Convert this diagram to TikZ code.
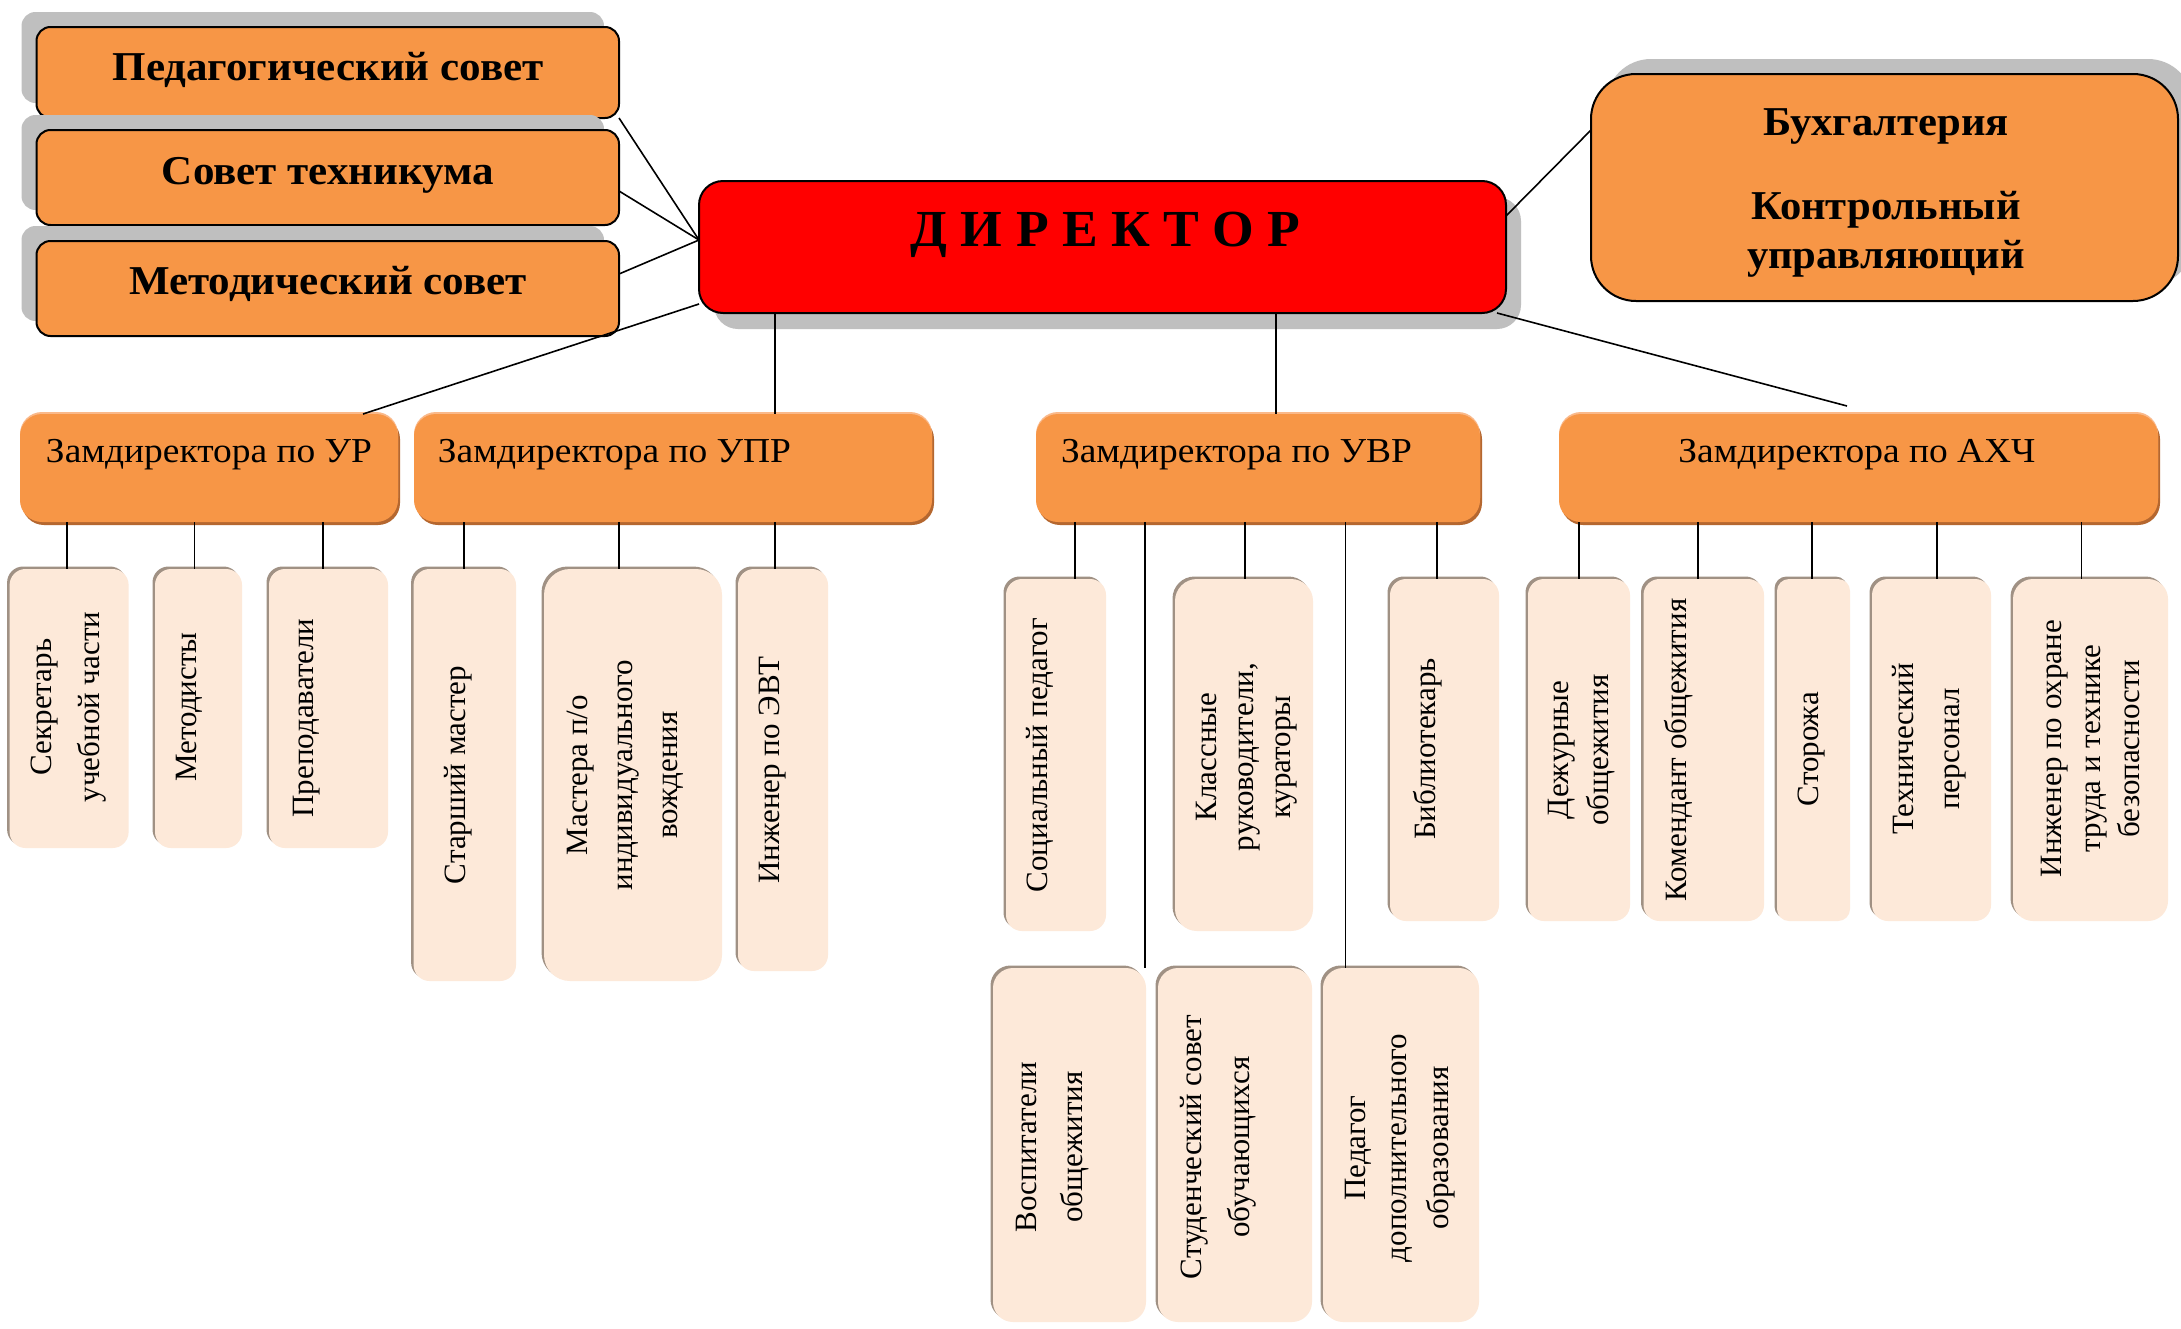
\documentclass[tikz,border=0pt]{standalone}
\usepackage{fontspec}
\setmainfont{Liberation Serif}
\usetikzlibrary{shadows}
\definecolor{org}{HTML}{F79646}
\definecolor{orgdark}{HTML}{B5672F}
\definecolor{orglight}{HTML}{FAB98A}
\definecolor{shgray}{HTML}{BFBFBF}
\definecolor{peach}{HTML}{FDE9D9}
\definecolor{peachedge}{HTML}{A09184}
\newcommand\mkbox[6]{\node[#2,inner sep=0pt,outer sep=0pt,minimum width={#5-#3},minimum height={#6-#4}] (#1) at ({(#3+#5)/2},{(#4+#6)/2}) {};}
\newcommand\vl[3]{\draw[conn] (#1,0 |- #2) -- (#1,0 |- #3);}
\tikzset{
  topbox/.style={fill=org, draw=black, line width=2pt, rounded corners=14pt,
    drop shadow={shadow xshift=-15pt, shadow yshift=15pt, fill=shgray, opacity=1}},
  dirbox/.style={fill=red, draw=black, line width=2pt, rounded corners=24pt,
    drop shadow={shadow xshift=15pt, shadow yshift=-16pt, fill=shgray, opacity=1}},
  buhbox/.style={fill=org, draw=black, line width=2pt, rounded corners=45pt,
    drop shadow={shadow xshift=15pt, shadow yshift=15pt, fill=shgray, opacity=1}},
  zambox/.style={fill=org, rounded corners=22pt,
    general shadow={shadow xshift=2pt, shadow yshift=-3pt, fill=orgdark},
    general shadow={shadow yshift=2pt, fill=orglight}},
  lowbox/.style={fill=peach, rounded corners=16pt,
    general shadow={shadow xshift=-2.5pt, shadow yshift=2.5pt, fill=peachedge}},
  conn/.style={draw=black, line width=1.6pt},
  ttop/.style={font=\fontsize{41}{48}\selectfont\bfseries, anchor=base, inner sep=0pt, xscale=1.05},
  tzam/.style={font=\fontsize{35}{40}\selectfont, anchor=base, inner sep=0pt, xscale=1.07},
  tlow/.style={font=\fontsize{31}{44}\selectfont, rotate=90, align=center, inner sep=0pt},
}
\begin{document}
\begin{tikzpicture}[x=1pt,y=-1pt]
\useasboundingbox (0,0) rectangle (2181,1328);
\fill[white] (0,0) rectangle (2181,1328);

% top-left councils
\mkbox{ped}{topbox}{36.5}{27}{619}{118}
\mkbox{sov}{topbox}{36.5}{130}{619}{225}
\mkbox{met}{topbox}{36.5}{241}{619}{336}
\node[ttop] (pedt) at (328,80.4) {Педагогический совет};
\node[ttop] (sovt) at (328,184) {Совет техникума};
\node[ttop] (mett) at (328,294.6) {Методический совет};

% director
\mkbox{dir}{dirbox}{699}{181}{1506}{313}
\node[font=\fontsize{52}{60}\selectfont\bfseries, anchor=base, inner sep=0pt, xscale=1.03] (dirt) at (1105.5,246) {Д И Р Е К Т О Р};

% accounting
\mkbox{buh}{buhbox}{1591}{74}{2178}{301}
\node[ttop, xscale=0.99] (buht1) at (1886,135) {Бухгалтерия};
\node[ttop, xscale=0.99] (buht2) at (1886,219.6) {Контрольный};
\node[ttop, xscale=0.99] (buht3) at (1886,268) {управляющий};

% deputies
\mkbox{ur}{zambox}{20}{414}{398}{522}
\mkbox{upr}{zambox}{414}{414}{932}{522}
\mkbox{uvr}{zambox}{1036}{414}{1480}{522}
\mkbox{axch}{zambox}{1559}{414}{2158}{522}
\node[tzam] (urt) at (209,462) {Замдиректора по УР};
\node[tzam] (uprt) at (614.5,462) {Замдиректора по УПР};
\node[tzam] (uvrt) at (1236.5,462) {Замдиректора по УВР};
\node[tzam] (axcht) at (1857,462) {Замдиректора по АХЧ};

% lower boxes
\mkbox{sec}{lowbox}{9.6}{569}{128.6}{848}
\mkbox{metd}{lowbox}{155}{569}{242}{848}
\mkbox{prep}{lowbox}{269}{569}{388}{848}
\mkbox{stm}{lowbox}{413.6}{569}{516}{981}
\mkbox{mas}{lowbox,rounded corners=26pt}{544}{569}{722}{981}
\mkbox{evt}{lowbox}{738}{569}{828}{971}
\mkbox{soc}{lowbox}{1006}{579}{1106}{931}
\mkbox{kl}{lowbox,rounded corners=22pt}{1175}{579}{1313}{931}
\mkbox{bib}{lowbox}{1390}{579}{1499}{921}
\mkbox{vos}{lowbox,rounded corners=20pt}{993}{968}{1146}{1322}
\mkbox{stud}{lowbox,rounded corners=20pt}{1158}{968}{1312}{1322}
\mkbox{pdo}{lowbox,rounded corners=20pt}{1323}{968}{1479}{1322}
\mkbox{dezh}{lowbox}{1528}{579}{1630}{921}
\mkbox{kom}{lowbox}{1643.5}{579}{1764}{921}
\mkbox{stor}{lowbox,rounded corners=12pt}{1777}{579}{1850}{921}
\mkbox{tech}{lowbox}{1872}{579}{1991}{921}
\mkbox{ohr}{lowbox,rounded corners=20pt}{2013}{579}{2168}{921}

\node[tlow,font=\fontsize{31}{48}\selectfont] (sect) at (69,707) {Секретарь\\учебной части};
\node[tlow] (metdt) at (189,707) {Методисты};
\node[tlow] (prept) at (307,718) {Преподаватели};
\node[tlow] (stmt) at (458,775) {Старший мастер};
\node[tlow,font=\fontsize{31}{45}\selectfont] (mast) at (625,775) {Мастера п/о\\индивидуального\\вождения};
\node[tlow] (evtt) at (773,770) {Инженер по ЭВТ};
\node[tlow] (soct) at (1040,755) {Социальный педагог};
\node[tlow,font=\fontsize{31}{37}\selectfont] (klt) at (1246.5,757) {Классные\\руководители,\\кураторы};
\node[tlow] (bibt) at (1428,749) {Библиотекарь};
\node[tlow,font=\fontsize{31}{46}\selectfont] (vost) at (1053,1147) {Воспитатели\\общежития};
\node[tlow,font=\fontsize{31}{48}\selectfont] (studt) at (1218,1147) {Студенческий совет\\обучающихся};
\node[tlow,font=\fontsize{31}{41.5}\selectfont] (pdot) at (1400,1148) {Педагог\\дополнительного\\образования};
\node[tlow,font=\fontsize{31}{40}\selectfont] (dezht) at (1582,750) {Дежурные\\общежития};
\node[tlow] (komt) at (1679,750) {Комендант общежития};
\node[tlow] (stort) at (1812,749) {Сторожа};
\node[tlow,font=\fontsize{31}{46}\selectfont] (techt) at (1929,749) {Технический\\персонал};
\node[tlow,font=\fontsize{31}{39}\selectfont] (ohrt) at (2090,748.5) {Инженер по охране\\труда и технике\\безопасности};

% connectors top
\draw[conn] (ped.south east) -- ([yshift=7pt]dir.west);
\draw[conn] ([yshift=-13.5pt]sov.east) -- ([yshift=7pt]dir.west);
\draw[conn] ([yshift=14.5pt]met.east) -- ([yshift=7pt]dir.west);
\draw[conn] ([yshift=31pt]dir.east) -- ([yshift=57.5pt]buh.west);
\draw[conn] ([yshift=9pt]dir.south west) -- ([xshift=154pt]ur.north);
\draw[conn] (775,0 |- dir.south) -- (775,0 |- upr.north);
\draw[conn] (1276,0 |- dir.south) -- (1276,0 |- uvr.north);
\coordinate (axtop) at (1847,406);
\draw[conn] ([xshift=-9pt]dir.south east) -- (axtop);

% connectors lower
\vl{67}{ur.south}{sec.north}
\vl{194.5}{ur.south}{metd.north}
\vl{323}{ur.south}{prep.north}
\vl{464}{upr.south}{stm.north}
\vl{619}{upr.south}{mas.north}
\vl{775}{upr.south}{evt.north}
\vl{1075}{uvr.south}{soc.north}
\vl{1145}{uvr.south}{vos.north}
\vl{1245}{uvr.south}{kl.north}
\vl{1345.5}{uvr.south}{pdo.north}
\vl{1437}{uvr.south}{bib.north}
\vl{1579}{axch.south}{dezh.north}
\vl{1698}{axch.south}{kom.north}
\vl{1812}{axch.south}{stor.north}
\vl{1937}{axch.south}{tech.north}
\vl{2081.5}{axch.south}{ohr.north}
\end{tikzpicture}
\end{document}
